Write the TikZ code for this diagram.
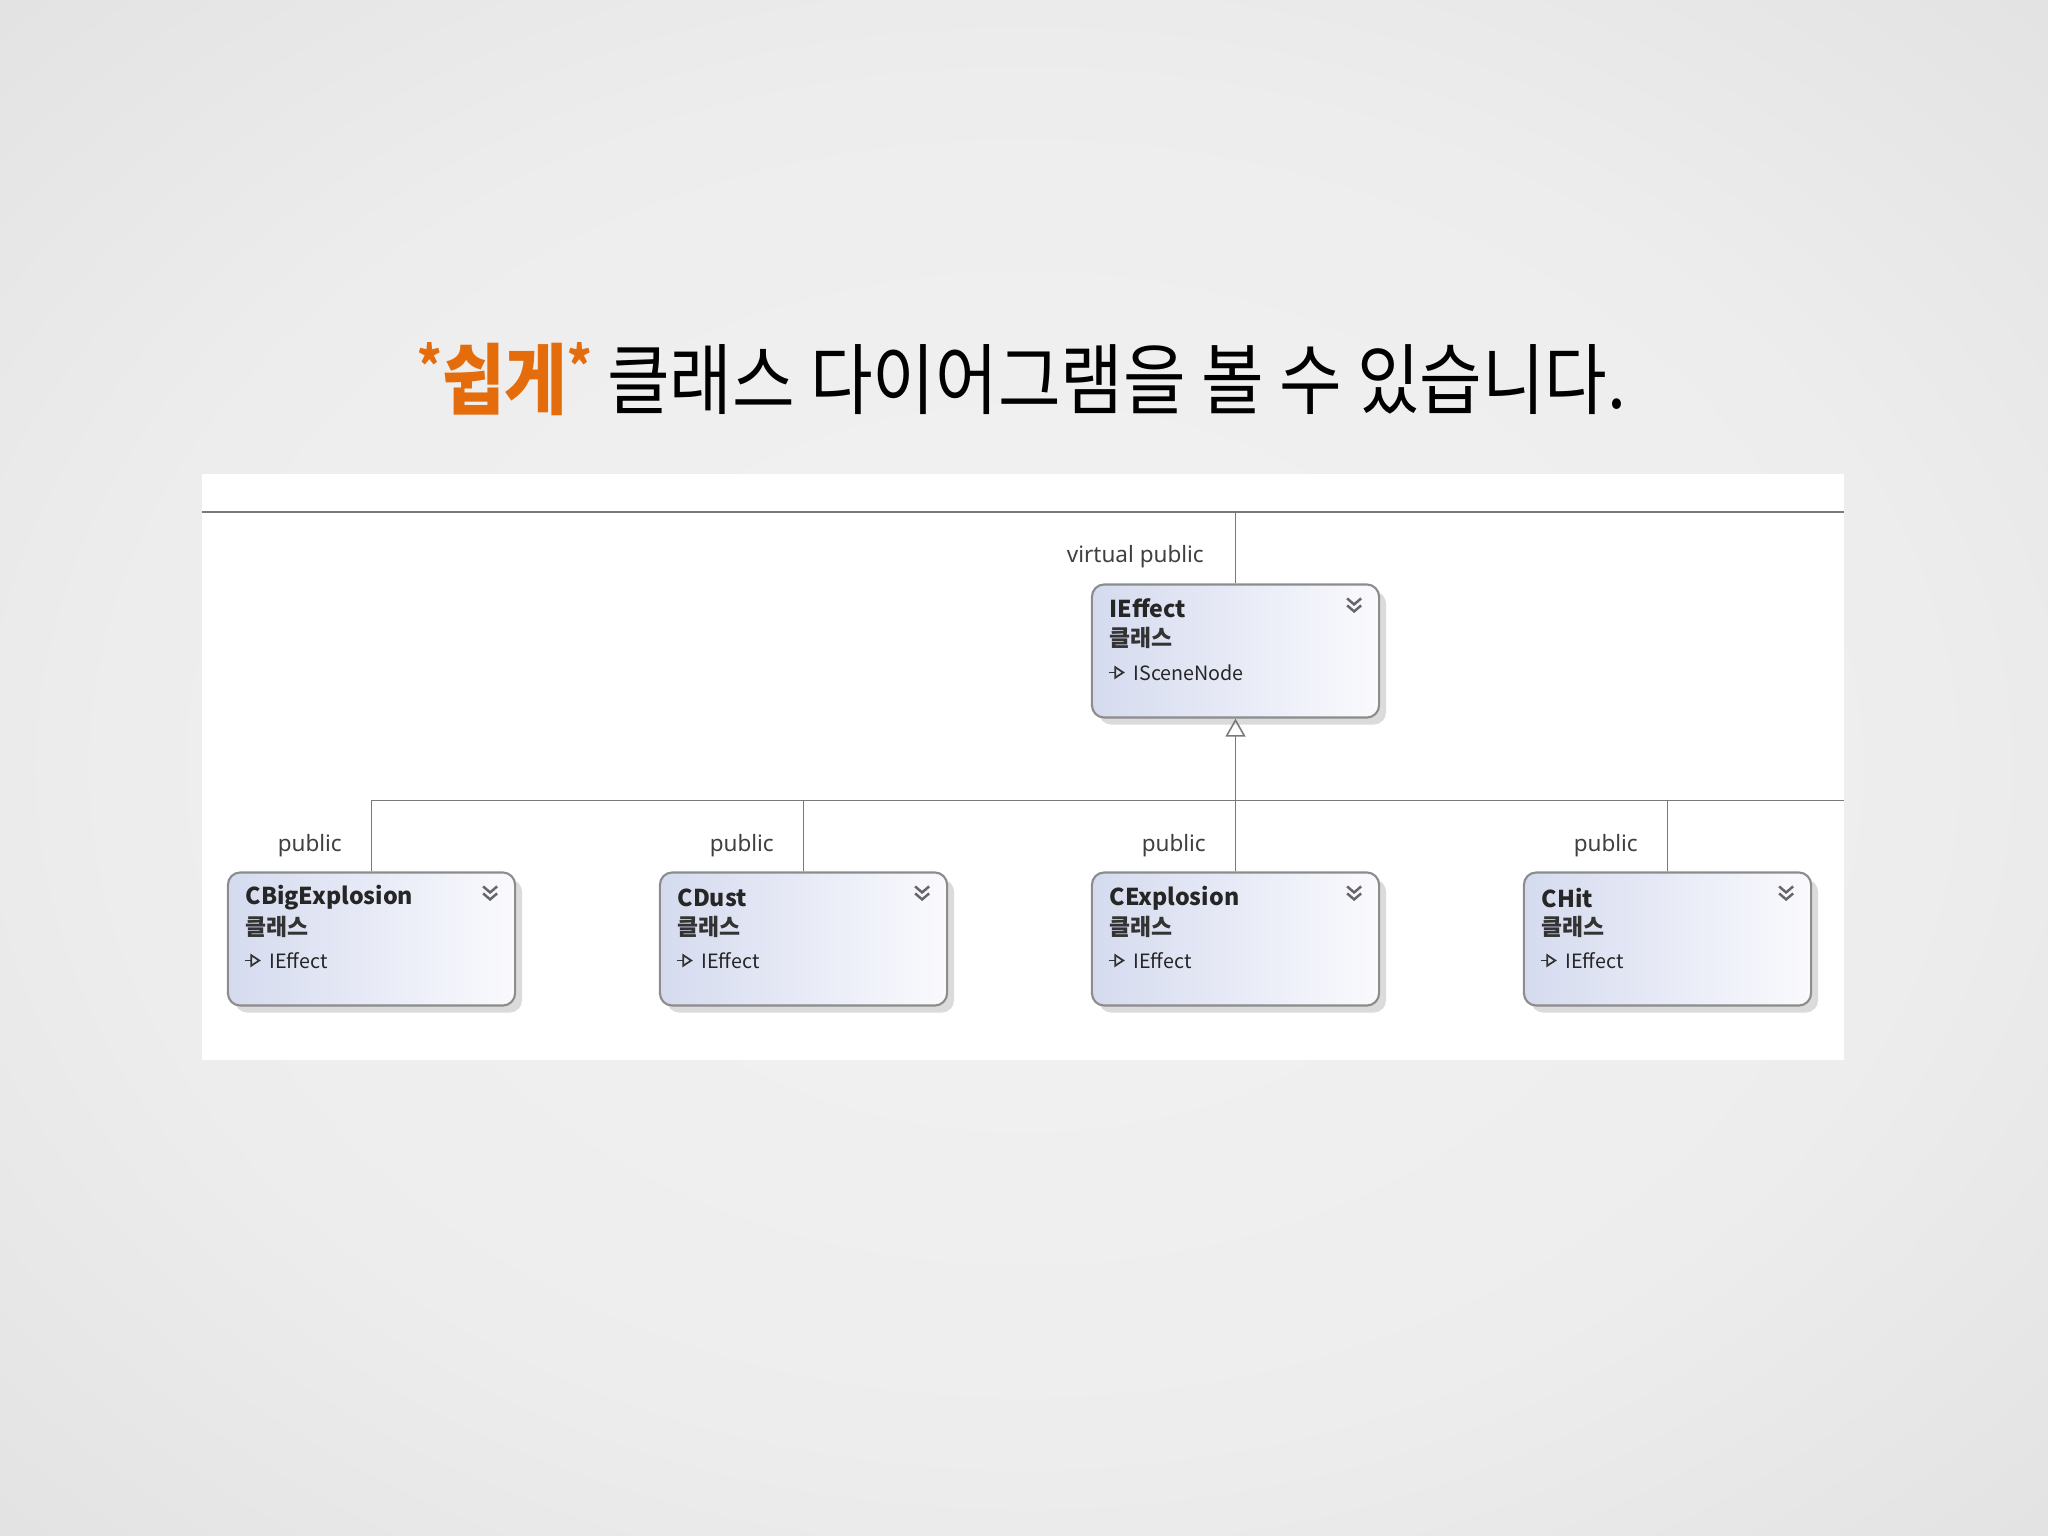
\documentclass[tikz,border=0pt]{standalone}
\usepackage{fontspec}
\usepackage{graphicx}
\setmainfont{Noto Sans CJK KR}
\newfontfamily\labelfont{Noto Sans}
\usetikzlibrary{arrows.meta,shadows}

\definecolor{slideorange}{HTML}{E46C0A}
\definecolor{linegray}{HTML}{7A7A7A}
\definecolor{boxedge}{HTML}{8C8C8C}
\definecolor{boxleft}{HTML}{D5DBEF}
\definecolor{boxright}{HTML}{FAFAFD}
\definecolor{labelgray}{HTML}{404040}
\definecolor{chevgray}{HTML}{666666}

\pgfdeclareradialshading{slidebg}{\pgfpoint{0bp}{0bp}}{rgb(0bp)=(0.95,0.95,0.95); rgb(22bp)=(0.93,0.93,0.93); rgb(45bp)=(0.86,0.86,0.86); rgb(71bp)=(0.82,0.82,0.82)}

\tikzset{
  classbox/.style={draw=boxedge, line width=0.6pt, rounded corners=3.5pt,
    left color=boxleft, right color=boxright,
    minimum width=2.87cm, minimum height=1.33cm, inner sep=0pt,
    drop shadow={shadow xshift=0.07cm, shadow yshift=-0.07cm, opacity=0.35, fill=black!40}},
  classname/.style={anchor=west, font=\fontsize{6.6}{8}\selectfont\bfseries, text=black!85, inner sep=0pt},
  classkind/.style={anchor=west, font=\fontsize{6.5}{8}\selectfont\bfseries, text=black!80, inner sep=0pt},
  classbase/.style={anchor=west, font=\fontsize{5.6}{7}\selectfont, text=black!85, inner sep=0pt},
  access/.style={anchor=east, font=\labelfont\fontsize{6.4}{8}\selectfont, text=labelgray, inner sep=0pt},
  link/.style={draw=linegray, line width=0.45pt},
  inherit/.style={link, -{Triangle[open, length=0.18cm, width=0.2cm]}},
  baseptr/.style={draw=black!80, line width=0.5pt, -{Triangle[open, length=3pt, width=3.8pt]}},
  chev/.style={draw=chevgray, line width=0.7pt},
}

\begin{document}
\begin{tikzpicture}[x=0.01cm, y=-0.01cm]
\useasboundingbox (0,0) rectangle (2048,1536);
% slide background
\shade[shading=slidebg] (0,0) rectangle (2048,1536);
\node[font=\fontsize{22}{26}\selectfont] (title) at (1022,379)
  {\scalebox{0.88}[1]{{\color{slideorange}\bfseries\raisebox{0.3em}{\fontsize{15}{15}\selectfont*}쉽게\raisebox{0.3em}{\fontsize{15}{15}\selectfont*}} 클래스 다이어그램을 볼 수 있습니다.}};
% diagram panel
\fill[white] (202,474) rectangle (1844,1060);
\coordinate (topleft) at (202,512);
\coordinate (topright) at (1844,512);
\coordinate (topjoin) at (1235.5,512);
\coordinate (joint) at (1235.5,800.5);
\coordinate (rowright) at (1844,800.5);
\draw[link, line width=0.7pt] (topleft) -- (topright);

% base class
\node[classbox] (ieffect) at (1235.5,651) {};
\node[classname] at ([xshift=0.18cm, yshift=-0.25cm]ieffect.north west) {IEffect};
\node[classkind] at ([xshift=0.18cm, yshift=-0.54cm]ieffect.north west) {클래스};
\draw[baseptr] ([xshift=0.18cm, yshift=-0.89cm]ieffect.north west) -- ++(0.16cm,0);
\node[classbase] at ([xshift=0.42cm, yshift=-0.89cm]ieffect.north west) {ISceneNode};
\draw[chev] ([xshift=-0.33cm, yshift=-0.15cm]ieffect.north east) -- ++(0.07cm,-0.06cm) -- ++(0.07cm,0.06cm);
\draw[chev] ([xshift=-0.33cm, yshift=-0.22cm]ieffect.north east) -- ++(0.07cm,-0.06cm) -- ++(0.07cm,0.06cm);
\draw[link] (topjoin) -- (ieffect.north);
\node[access] at ([xshift=-0.31cm, yshift=0.27cm]ieffect.north) {virtual public};

% derived classes
\foreach \nm/\cx/\ttl in {cbig/371.5/CBigExplosion, cdust/803.5/CDust, cexp/1235.5/CExplosion, chit/1667.5/CHit} {
  \node[classbox] (\nm) at (\cx,939) {};
  \node[classname] at ([xshift=0.18cm, yshift=-0.265cm]\nm.north west) {\ttl};
  \node[classkind] at ([xshift=0.18cm, yshift=-0.55cm]\nm.north west) {클래스};
  \draw[baseptr] ([xshift=0.18cm, yshift=-0.89cm]\nm.north west) -- ++(0.16cm,0);
  \node[classbase] at ([xshift=0.42cm, yshift=-0.89cm]\nm.north west) {IEffect};
  \draw[chev] ([xshift=-0.33cm, yshift=-0.15cm]\nm.north east) -- ++(0.07cm,-0.06cm) -- ++(0.07cm,0.06cm);
  \draw[chev] ([xshift=-0.33cm, yshift=-0.22cm]\nm.north east) -- ++(0.07cm,-0.06cm) -- ++(0.07cm,0.06cm);
  \node[access] at ([xshift=-0.29cm, yshift=0.26cm]\nm.north) {public};
}

% inheritance links
\draw[link] (cbig.north) |- (joint);
\draw[link] (cdust.north) |- (joint);
\draw[link] (chit.north) |- (rowright);
\draw[link] (cexp.north) -- (joint);
\draw[link] (joint) -- (rowright);
\draw[inherit] (joint) -- (ieffect.south);
\end{tikzpicture}
\end{document}
